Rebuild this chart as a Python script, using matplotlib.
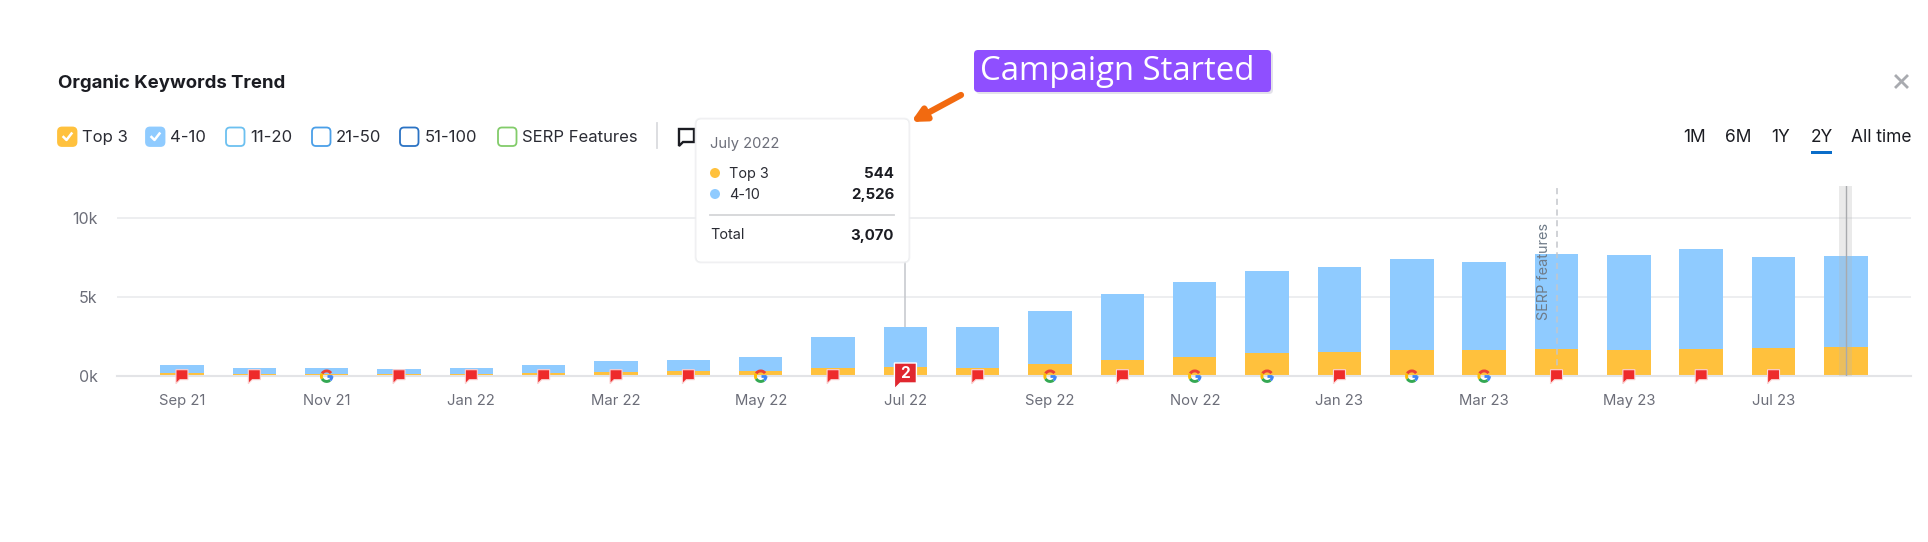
import matplotlib
matplotlib.use("Agg")
import matplotlib.pyplot as plt
from matplotlib.patches import FancyBboxPatch, Polygon, Arc, Rectangle, Circle

plt.rcParams['font.family'] = ['Inter', 'DejaVu Sans']

months = ["Sep 21", "Oct 21", "Nov 21", "Dec 21", "Jan 22", "Feb 22", "Mar 22", "Apr 22",
          "May 22", "Jun 22", "Jul 22", "Aug 22", "Sep 22", "Oct 22", "Nov 22", "Dec 22",
          "Jan 23", "Feb 23", "Mar 23", "Apr 23", "May 23", "Jun 23", "Jul 23", "Aug 23"]
top3 = [200, 130, 130, 120, 120, 170, 260, 280, 310, 470, 544, 490,
        730, 1000, 1200, 1420, 1520, 1600, 1620, 1690, 1600, 1670, 1770, 1790]
total = [650, 500, 480, 440, 470, 680, 920, 1020, 1210, 2420, 3070, 3080,
         4100, 5200, 5900, 6620, 6880, 7380, 7170, 7720, 7660, 8000, 7490, 7550]
pos4_10 = [t - a for t, a in zip(total, top3)]
events = ["flag", "flag", "google", "flag", "flag", "flag", "flag", "flag",
          "google", "flag", "two", "flag", "google", "flag", "google", "google",
          "flag", "google", "google", "flag", "flag", "flag", "flag", ""]
yticks = [0, 5000, 10000]
ytick_labels = ["0k", "5k", "10k"]

legend_items = [("Top 3", 58, 82, "#FFC13D", "#FFC13D", True),
                ("4-10", 146, 170, "#8FCBFF", "#8FCBFF", True),
                ("11-20", 226, 250, "white", "#6CC0F0", False),
                ("21-50", 312, 336, "white", "#4A9FE8", False),
                ("51-100", 400, 425, "white", "#2B73C4", False),
                ("SERP Features", 498, 522, "white", "#82CC6A", False)]
ranges = [("1M", 1695), ("6M", 1738), ("1Y", 1781), ("2Y", 1822), ("All time", 1881)]

W, H = 1928, 542
fig = plt.figure(figsize=(W / 100, H / 100), dpi=100, facecolor="white")

# main chart, placed so the pixel scale matches the screenshot
ax = fig.add_axes([117 / W, 1 - 375.7 / H, (1911 - 117) / W, (375.7 - 186) / H])
x = list(range(len(months)))
ax.bar(x, top3, width=0.6, color="#FFC13D", zorder=2)
ax.bar(x, pos4_10, width=0.6, bottom=top3, color="#8FCBFF", zorder=2)
ax.set_xlim(-0.898, 23.9)
ax.set_ylim(0, 12006)
for s in ["top", "left", "right"]:
    ax.spines[s].set_visible(False)
ax.spines["bottom"].set_color("#E3E4E7")
ax.spines["bottom"].set_linewidth(1.5)
ax.set_yticks(yticks)
ax.set_yticklabels(ytick_labels, fontsize=11.5, color="#6C6E79")
ax.set_xticks(x[::2])
ax.set_xticklabels(months[::2], fontsize=10.7, color="#6C6E79")
ax.tick_params(axis="both", length=0)
ax.tick_params(axis="x", pad=13)
ax.tick_params(axis="y", pad=14)
ax.grid(axis="y", color="#ECEDEF", lw=1.3, zorder=0)
ax.set_axisbelow(True)

ax.plot([19, 19], [0, 12006], color="#C4C6CB", lw=1.1, ls=(0, (4, 3)), zorder=3)
ax.text(18.83, 6600, "SERP features", rotation=90, fontsize=10.4, color="#6F7B88",
        ha="center", va="center", zorder=4)
ax.plot([10, 10], [0, 8000], color="#C4C6CB", lw=1.1, zorder=1)
ax.axvspan(22.91, 23.09, color="#B5B7B5", alpha=0.28, lw=0, zorder=3)
ax.plot([23, 23], [0, 12006], color="#A8AAAD", lw=1, zorder=3)

# overlay in pixel coordinates for the widget chrome
ov = fig.add_axes([0, 0, 1, 1], facecolor="none")
ov.set_xlim(0, W)
ov.set_ylim(H, 0)
ov.axis("off")


def px(i):
    return ax.transData.transform((i, 0))[0]


def draw_flag(cx, cy):
    pts = [(cx - 6, cy - 6), (cx + 6, cy - 6), (cx + 6, cy + 4), (cx - 2, cy + 4), (cx - 6, cy + 8)]
    ov.add_patch(Polygon(pts, closed=True, fc="#EE2B2B", ec="#FBD4D4", lw=0.8, zorder=5))


def draw_google(cx, cy):
    r = 10.5
    # y axis is flipped, so the angles run clockwise on screen
    for t1, t2, col in [(-150, -35, "#EA4335"), (150, 210, "#FBBC05"),
                        (50, 150, "#34A853"), (0, 50, "#4285F4")]:
        ov.add_patch(Arc((cx, cy), r, r, theta1=t1, theta2=t2, color=col, lw=2.1, zorder=5))
    ov.plot([cx, cx + r / 2], [cy, cy], color="#4285F4", lw=2, zorder=5, solid_capstyle="butt")


y0 = 375.7
for i, ev in enumerate(events):
    if ev == "flag":
        draw_flag(px(i), y0)
    elif ev == "google":
        draw_google(px(i), y0 + 0.5)
    elif ev == "two":
        cx = px(i)
        pts = [(cx - 11, 363), (cx + 11, 363), (cx + 11, 383), (cx - 5, 383), (cx - 11, 389)]
        ov.add_patch(Polygon(pts, closed=True, fc="#E0272F", ec="white", lw=1, zorder=5))
        ov.text(cx, 373, "2", color="white", fontsize=11, fontweight="bold", ha="center", va="center", zorder=6)

# header
ov.text(58, 83, "Organic Keywords Trend", fontsize=13.4, fontweight="bold", color="#1B1C22", va="center")
ov.plot([1896, 1907], [76, 87], color="#A9ABB0", lw=2)
ov.plot([1896, 1907], [87, 76], color="#A9ABB0", lw=2)

# legend row
for label, bx, tx, fc, ec, checked in legend_items:
    ov.add_patch(FancyBboxPatch((bx + 2, 129.5), 14.5, 14.5, boxstyle="round,pad=2,rounding_size=4", fc=fc, ec=ec, lw=1.3))
    if checked:
        ov.plot([bx + 5.5, bx + 8.5, bx + 13.5], [137, 140, 133.5], color="white", lw=1.8)
    ov.text(tx, 137.5, label, fontsize=12, color="#2A2B33", va="center")
ov.plot([657, 657], [123, 148], color="#DADBDE", lw=1.3)
ov.add_patch(Polygon([(679, 129), (694, 129), (694, 142), (683, 142), (679, 146)], closed=True,
                     fc="none", ec="#1B1C22", lw=1.7))

# range selector
for label, cx in ranges:
    ov.text(cx, 137, label, fontsize=12.5, color="#1B1C22", ha="center", va="center")
ov.add_patch(Rectangle((1811, 150.5), 21, 3, fc="#0A6DC9", lw=0))

# tooltip
ov.add_patch(FancyBboxPatch((699, 122), 207, 137, boxstyle="round,pad=3,rounding_size=5",
                            fc="#EEEFF1", ec="#EEEFF1", lw=2, alpha=0.7, zorder=7))
ov.add_patch(FancyBboxPatch((699, 122), 207, 137, boxstyle="round,pad=3,rounding_size=5",
                            fc="white", ec="#ECEDEF", lw=0.6, zorder=7))
ov.text(710, 144, "July 2022", fontsize=10.6, color="#6C6E79", va="center", zorder=8)
ov.add_patch(Circle((715, 173), 5, fc="#FFC13D", lw=0, zorder=8))
ov.add_patch(Circle((715, 194), 5, fc="#8FCBFF", lw=0, zorder=8))
ov.text(729, 174, "Top 3", fontsize=10.4, color="#2A2B33", va="center", zorder=8)
ov.text(729, 195, "4-10", fontsize=10.4, color="#2A2B33", va="center", zorder=8)
ov.text(894, 174, f"{top3[10]:,}", fontsize=10.8, fontweight="bold", color="#1B1C22", ha="right", va="center", zorder=8)
ov.text(894, 195, f"{pos4_10[10]:,}", fontsize=10.8, fontweight="bold", color="#1B1C22", ha="right", va="center", zorder=8)
ov.plot([710, 894], [215, 215], color="#D4D5D8", lw=1.3, zorder=8)
ov.text(710, 235, "Total", fontsize=10.4, color="#2A2B33", va="center", zorder=8)
ov.text(894, 236, f"{total[10]:,}", fontsize=10.8, fontweight="bold", color="#1B1C22", ha="right", va="center", zorder=8)

# campaign callout
ov.add_patch(FancyBboxPatch((979, 55), 291, 36, boxstyle="round,pad=3,rounding_size=4",
                            fc="#C9C6D6", lw=0, alpha=0.5, zorder=8))
ov.add_patch(FancyBboxPatch((977, 53), 291, 36, boxstyle="round,pad=3,rounding_size=4",
                            fc="#8F4FFF", lw=0, zorder=9))
ov.text(980, 72, "Campaign Started", fontsize=23.7, color="white", va="center", zorder=10,
        family=["Open Sans", "DejaVu Sans"])
ov.annotate("", xy=(911, 122), xytext=(961, 95), zorder=9,
            arrowprops=dict(arrowstyle="-|>,head_width=0.4,head_length=0.8", color="#F26A10", lw=4.5,
                            shrinkA=0, shrinkB=0, capstyle="round"))

fig.savefig("out.png", dpi=100, facecolor="white")
